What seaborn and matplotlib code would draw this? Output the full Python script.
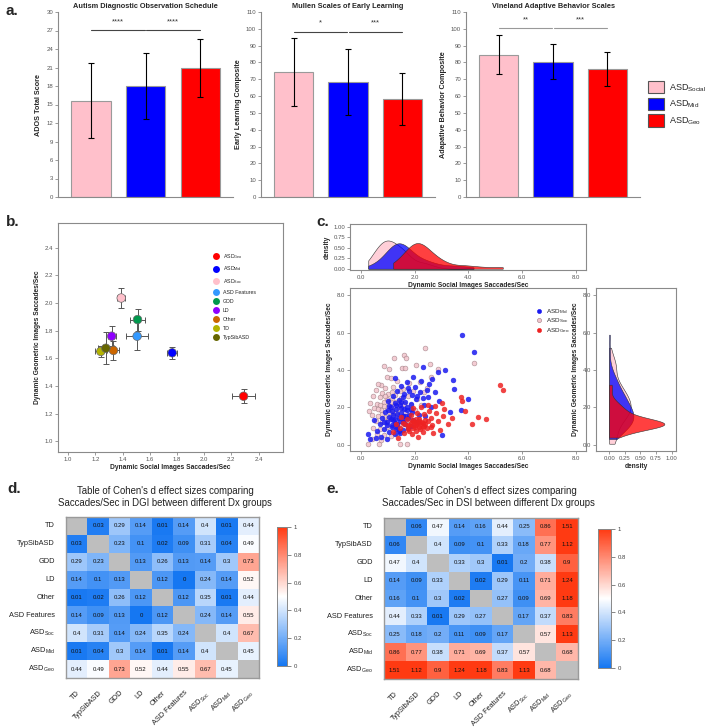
import numpy as np
import pandas as pd
import matplotlib
matplotlib.use('Agg')
import matplotlib.pyplot as plt
from matplotlib.colors import LinearSegmentedColormap
from matplotlib.lines import Line2D
from matplotlib.patches import Patch
import seaborn as sns

sns.set_theme(style='white')
plt.rcParams['font.family'] = ['Liberation Sans', 'DejaVu Sans']
plt.rcParams['mathtext.fontset'] = 'custom'
plt.rcParams['mathtext.rm'] = 'Liberation Sans'
plt.rcParams['mathtext.it'] = 'Liberation Sans:italic'
plt.rcParams['mathtext.bf'] = 'Liberation Sans:bold'

# ---- panel a: bar charts ----
bar_groups = ['ASD Social', 'ASD Mid', 'ASD Geo']
bar_colors = ['#FFC0CB', '#0000FF', '#FF0000']
ados_mean = [15.6, 18.0, 20.9]
ados_sd = [6.05, 5.35, 4.75]
mullen_mean = [74.3, 68.5, 58.3]
mullen_sd = [20.0, 19.5, 15.4]
vabs_mean = [84.7, 80.5, 76.0]
vabs_sd = [11.8, 10.5, 10.2]
ados_sig = ['****', '****']
mullen_sig = ['*', '***']
vabs_sig = ['**', '***']

# ---- panel b: group means ----
b_groups = ['ASD Geo', 'ASD Mid', 'ASD Soc', 'ASD Features', 'GDD', 'LD', 'Other', 'TD', 'TypSibASD']
b_labels = ['ASD$_{\\mathrm{Geo}}$', 'ASD$_{\\mathrm{Mid}}$', 'ASD$_{\\mathrm{Soc}}$', 'ASD Features',
            'GDD', 'LD', 'Other', 'TD', 'TypSibASD']
b_colors = ['#FF0000', '#0000FF', '#FFC0CB', '#3399FF', '#00994D', '#8F00FF', '#CC6600', '#B3B300', '#666600']
b_x = [2.29, 1.765, 1.39, 1.507, 1.51, 1.32, 1.333, 1.24, 1.277]
b_y = [1.326, 1.64, 2.036, 1.76, 1.88, 1.76, 1.657, 1.65, 1.673]
b_xerr = [0.086, 0.035, 0.03, 0.08, 0.054, 0.03, 0.044, 0.04, 0.06]
b_yerr = [0.05, 0.042, 0.075, 0.1, 0.08, 0.07, 0.07, 0.04, 0.114]

# ---- panel c: per-subject saccade rates (social x, geometric y) ----
soc_x = [2.39, 4.19, 1.60, 1.68, 1.24, 0.87, 2.05, 2.57, 2.88, 1.52, 1.64, 0.27, 0.68, 1.45, 1.70,
         0.95, 1.10, 0.75, 1.35, 1.80, 2.20, 2.60, 0.55, 0.90, 1.20, 1.55, 1.95, 2.35, 0.45, 0.70,
         1.00, 1.25, 1.50, 1.75, 2.10, 0.35, 0.60, 0.85, 1.05, 1.30, 1.60, 1.85, 0.50, 0.75, 0.95,
         1.15, 1.40, 1.65, 2.00, 0.40, 0.65, 0.90, 1.10, 1.35, 1.55, 0.55, 0.80, 1.00, 1.25, 1.50,
         0.45, 0.70, 0.95, 1.20, 0.60, 0.85, 1.10, 1.35, 0.40, 0.75, 1.80, 2.25, 1.15, 0.80, 1.45,
         2.45, 0.30, 1.70, 0.62, 1.05, 0.85, 1.05, 1.20, 0.95, 0.70, 1.30, 1.10, 0.80, 1.40, 1.00,
         0.65, 1.20, 0.90, 1.50, 1.15]
soc_y = [5.19, 4.37, 4.82, 4.64, 4.64, 4.21, 4.28, 4.30, 4.03, 4.10, 4.10, 0.05, 0.05, 0.05, 0.05,
         3.65, 3.55, 3.20, 3.40, 3.30, 3.35, 3.60, 2.95, 3.05, 3.10, 3.00, 2.85, 2.80, 2.60, 2.55,
         2.70, 2.65, 2.50, 2.60, 2.45, 2.25, 2.20, 2.30, 2.15, 2.30, 2.20, 2.10, 1.95, 1.85, 1.95,
         1.80, 1.90, 1.75, 1.85, 1.60, 1.55, 1.50, 1.65, 1.55, 1.40, 1.25, 1.20, 1.30, 1.15, 1.05,
         0.90, 0.85, 0.95, 0.80, 0.55, 0.50, 0.45, 0.60, 0.30, 0.25, 1.30, 2.10, 2.45, 2.75, 2.85,
         3.05, 1.80, 1.55, 3.25, 4.05, 2.05, 1.75, 2.05, 2.45, 2.10, 1.70, 2.30, 1.65, 2.15, 1.45,
         1.90, 1.50, 2.60, 2.35, 2.80]
mid_x = [3.75, 4.19, 3.13, 3.42, 3.47, 3.98, 3.71, 3.32, 3.00, 2.30, 1.27, 0.27, 0.35, 0.55, 0.75,
         0.95, 0.60, 0.85, 1.05, 1.25, 0.70, 0.95, 1.15, 1.35, 1.55, 0.80, 1.05, 1.25, 1.45, 1.65,
         1.85, 0.90, 1.15, 1.35, 1.55, 1.75, 1.95, 1.05, 1.30, 1.50, 1.70, 1.90, 2.15, 1.40, 1.65,
         1.85, 2.05, 2.35, 1.60, 1.90, 2.20, 2.50, 2.75, 2.60, 2.40, 2.10, 1.20, 1.75, 2.55, 2.90,
         1.45, 0.50, 1.00, 2.85, 1.25, 1.10, 1.20, 1.30, 1.40, 1.50, 1.60, 1.70, 1.80, 1.25, 1.45,
         1.55, 1.15, 0.95, 1.35, 1.65, 1.75, 1.00, 1.40, 1.85, 1.20, 1.30, 1.50, 1.60, 1.10, 0.85,
         1.55, 1.80, 2.00, 2.25, 1.70, 2.45, 1.35, 2.10, 1.95, 2.65, 1.50, 2.30]
mid_y = [5.89, 4.96, 3.98, 3.44, 2.96, 2.46, 1.87, 1.77, 0.50, 4.16, 3.57, 0.55, 0.30, 0.35, 0.40,
         0.30, 0.75, 0.85, 0.70, 0.55, 1.10, 1.20, 1.05, 0.95, 0.80, 1.45, 1.50, 1.35, 1.25, 1.10,
         1.00, 1.75, 1.80, 1.65, 1.55, 1.45, 1.30, 2.05, 2.10, 1.95, 1.85, 1.75, 1.60, 2.40, 2.30,
         2.20, 2.45, 2.10, 2.70, 2.65, 2.80, 2.55, 2.80, 2.00, 1.55, 1.20, 2.60, 3.05, 3.25, 2.35,
         0.60, 1.30, 2.35, 3.90, 1.15, 1.40, 1.60, 1.90, 1.45, 1.70, 1.35, 2.00, 1.60, 2.25, 2.10,
         1.20, 0.95, 1.05, 1.10, 1.55, 0.90, 1.85, 0.75, 1.90, 1.30, 0.85, 2.30, 1.90, 2.00, 1.20,
         2.55, 2.85, 3.10, 3.40, 3.35, 2.95, 2.90, 2.60, 3.60, 3.50, 3.15, 2.50]
geo_x = [5.19, 5.28, 4.67, 4.37, 4.12, 3.88, 3.73, 3.78, 3.38, 3.25, 2.94, 2.32, 2.14, 1.37, 1.20,
         1.45, 1.60, 1.75, 1.90, 1.55, 1.80, 2.00, 2.20, 2.45, 2.65, 1.70, 1.95, 2.15, 2.40, 2.60,
         2.85, 1.85, 2.10, 2.35, 2.55, 2.80, 3.05, 2.25, 2.50, 2.75, 3.00, 1.50, 2.05, 2.70, 3.10,
         1.30, 2.30, 1.95, 1.75, 1.85, 1.95, 2.05, 2.15, 2.25, 2.35, 1.90, 2.00, 2.10, 2.20, 1.80,
         2.40, 2.50, 1.65, 2.05, 2.30, 1.95, 2.15, 2.60]
geo_y = [3.21, 2.94, 1.35, 1.48, 1.12, 1.80, 2.55, 2.33, 1.44, 1.09, 0.77, 0.68, 0.41, 0.38, 0.70,
         0.90, 0.60, 0.85, 0.55, 1.15, 1.05, 0.95, 1.10, 0.90, 1.05, 1.35, 1.25, 1.40, 1.30, 1.45,
         1.25, 1.60, 1.70, 1.65, 1.80, 1.70, 1.55, 2.00, 2.15, 2.05, 2.25, 1.50, 0.75, 0.60, 1.90,
         1.10, 1.15, 1.95, 1.00, 1.15, 0.90, 1.05, 0.95, 1.20, 1.00, 1.30, 1.20, 1.15, 0.85, 0.75,
         1.10, 1.25, 1.10, 1.35, 0.95, 1.05, 1.25, 0.95]
c_colors = {'Soc': '#F2C4CC', 'Mid': '#1A1AF0', 'Geo': '#EE2222'}

# ---- panels d/e: Cohen's d tables ----
dx_groups = ['TD', 'TypSibASD', 'GDD', 'LD', 'Other', 'ASD Features',
             'ASD$_{\\mathrm{Soc}}$', 'ASD$_{\\mathrm{Mid}}$', 'ASD$_{\\mathrm{Geo}}$']
dgi_d = [
    [0, 0.03, 0.29, 0.14, 0.01, 0.14, 0.4, 0.01, 0.44],
    [0.03, 0, 0.23, 0.1, 0.02, 0.09, 0.31, 0.04, 0.49],
    [0.29, 0.23, 0, 0.13, 0.26, 0.13, 0.14, 0.3, 0.73],
    [0.14, 0.1, 0.13, 0, 0.12, 0, 0.24, 0.14, 0.52],
    [0.01, 0.02, 0.26, 0.12, 0, 0.12, 0.35, 0.01, 0.44],
    [0.14, 0.09, 0.13, 0, 0.12, 0, 0.24, 0.14, 0.55],
    [0.4, 0.31, 0.14, 0.24, 0.35, 0.24, 0, 0.4, 0.67],
    [0.01, 0.04, 0.3, 0.14, 0.01, 0.14, 0.4, 0, 0.45],
    [0.44, 0.49, 0.73, 0.52, 0.44, 0.55, 0.67, 0.45, 0],
]
dsi_d = [
    [0, 0.06, 0.47, 0.14, 0.16, 0.44, 0.25, 0.86, 1.51],
    [0.06, 0, 0.4, 0.09, 0.1, 0.33, 0.18, 0.77, 1.12],
    [0.47, 0.4, 0, 0.33, 0.3, 0.01, 0.2, 0.38, 0.9],
    [0.14, 0.09, 0.33, 0, 0.02, 0.29, 0.11, 0.71, 1.24],
    [0.16, 0.1, 0.3, 0.02, 0, 0.27, 0.09, 0.69, 1.18],
    [0.44, 0.33, 0.01, 0.29, 0.27, 0, 0.17, 0.37, 0.83],
    [0.25, 0.18, 0.2, 0.11, 0.09, 0.17, 0, 0.57, 1.13],
    [0.86, 0.77, 0.38, 0.71, 0.69, 0.37, 0.57, 0, 0.68],
    [1.51, 1.12, 0.9, 1.24, 1.18, 0.83, 1.13, 0.68, 0],
]

W, H = 709, 727
fig = plt.figure(figsize=(W / 100, H / 100), dpi=100)


def add_ax(l, t, r, b):
    return fig.add_axes([l / W, 1 - b / H, (r - l) / W, (b - t) / H])


def gray_axis(ax, spines=('left', 'bottom'), size=4.3):
    for k, s in ax.spines.items():
        s.set_visible(k in spines)
        s.set_color('#8a8a8a')
        s.set_linewidth(0.8)
    ax.tick_params(labelsize=size, colors='#8a8a8a', labelcolor='#555555', length=2, width=0.6, pad=1.5,
                   left='left' in spines, bottom='bottom' in spines)


def bar_panel(ax, means, sds, title, ylabel, ymax, step, sig, sig_y, txt_y, sig_color):
    df = pd.DataFrame({'grp': bar_groups, 'val': means})
    sns.barplot(data=df, x='grp', y='val', hue='grp', palette=bar_colors, width=0.72, saturation=1,
                edgecolor='#9a9a9a', linewidth=0.8, ax=ax, legend=False)
    ax.errorbar(range(3), means, yerr=sds, fmt='none', ecolor='black', elinewidth=0.8,
                capsize=2.5, capthick=0.8)
    ax.plot([0, 0.99], [sig_y, sig_y], color=sig_color, lw=0.8)
    ax.plot([1.01, 2], [sig_y, sig_y], color=sig_color, lw=0.8)
    ax.text(0.5, txt_y, sig[0], ha='center', va='center', fontsize=5.5, color='#333333')
    ax.text(1.5, txt_y, sig[1], ha='center', va='center', fontsize=5.5, color='#333333')
    ax.set_xlim(-0.6, 2.6)
    ax.set_ylim(0, ymax)
    ax.set_yticks(np.arange(0, ymax + 0.1, step))
    ax.set_xticks([])
    ax.set_xlabel('')
    ax.set_ylabel(ylabel, fontsize=5.2, fontweight='bold', labelpad=3)
    ax.set_title(title, fontsize=5.3, fontweight='bold', pad=3)
    gray_axis(ax)


a1 = add_ax(58, 12, 233, 197)
bar_panel(a1, ados_mean, ados_sd, 'Autism Diagnostic Observation Schedule', 'ADOS Total Score',
          30, 3, ados_sig, 27.1, 28.4, '#444444')
a2 = add_ax(261, 12, 435, 197)
bar_panel(a2, mullen_mean, mullen_sd, 'Mullen Scales of Early Learning', 'Early Learning Composite',
          110, 10, mullen_sig, 98.4, 103.4, '#444444')
a3 = add_ax(466, 12, 640, 197)
bar_panel(a3, vabs_mean, vabs_sd, 'Vineland Adaptive Behavior Scales', 'Adapative Behavior Composite',
          110, 10, vabs_sig, 100.6, 105.4, '#999999')

leg_labels = ['ASD$_{\\mathrm{Social}}$', 'ASD$_{\\mathrm{Mid}}$', 'ASD$_{\\mathrm{Geo}}$']
handles = [Patch(facecolor=c, edgecolor='#555555', linewidth=0.8) for c in bar_colors]
fig.legend(handles=handles, labels=leg_labels, loc='upper left', bbox_to_anchor=(648 / W, 1 - 81 / H),
           frameon=False, fontsize=6.5, handlelength=1.75, handleheight=1.75, labelspacing=0.45,
           handletextpad=0.6, borderaxespad=0, borderpad=0)

# ---- panel b ----
axb = add_ax(58, 223, 283, 452)
axb.errorbar(b_x, b_y, xerr=b_xerr, yerr=b_yerr, fmt='none', ecolor='#555555', elinewidth=0.7,
             capsize=2, capthick=0.7, zorder=1)
dfb = pd.DataFrame({'grp': b_groups, 'x': b_x, 'y': b_y})
sns.scatterplot(data=dfb, x='x', y='y', hue='grp', palette=b_colors, s=38, edgecolor='#6a6a6a',
                linewidth=0.5, ax=axb, legend=False, zorder=3)
axb.set_xlim(0.925, 2.58)
axb.set_ylim(0.923, 2.578)
axb.set_xticks(np.arange(1.0, 2.41, 0.2))
axb.set_yticks(np.arange(1.0, 2.41, 0.2))
axb.xaxis.set_major_formatter('{x:.1f}')
axb.yaxis.set_major_formatter('{x:.1f}')
gray_axis(axb, spines=('left', 'bottom', 'right', 'top'))
axb.set_xlabel('Dynamic Social Images Saccades/Sec', fontsize=4.8, fontweight='bold', labelpad=1.5)
axb.set_ylabel('Dynamic Geometric Images Saccades/Sec', fontsize=4.8, fontweight='bold', labelpad=3)
b_handles = [Line2D([], [], marker='o', ls='', markerfacecolor=c, markeredgecolor='none', markersize=5)
             for c in b_colors]
axb.legend(b_handles, b_labels, loc='upper left', bbox_to_anchor=(0.68, 0.875), frameon=False,
           fontsize=3.8, handletextpad=0.2, labelspacing=0.75, borderpad=0, borderaxespad=0)

# ---- panel c ----
dfc = pd.concat([
    pd.DataFrame({'grp': 'Soc', 'x': soc_x, 'y': soc_y}),
    pd.DataFrame({'grp': 'Mid', 'x': mid_x, 'y': mid_y}),
    pd.DataFrame({'grp': 'Geo', 'x': geo_x, 'y': geo_y}),
], ignore_index=True)

axm = add_ax(350, 288, 586, 451)
for grp, ec in [('Soc', '#9a7a80'), ('Mid', '#1A1AF0'), ('Geo', '#EE2222')]:
    sub = dfc[dfc.grp == grp]
    sns.scatterplot(data=sub, x='x', y='y', color=c_colors[grp], s=12, edgecolor=ec, linewidth=0.4,
                    alpha=0.85, ax=axm, legend=False)
axm.set_xlim(-0.41, 8.38)
axm.set_ylim(-0.34, 8.39)
axm.set_xticks(np.arange(0, 8.1, 2))
axm.set_yticks(np.arange(0, 8.1, 2))
axm.xaxis.set_major_formatter('{x:.1f}')
axm.yaxis.set_major_formatter('{x:.1f}')
gray_axis(axm, spines=('left', 'bottom', 'right', 'top'))
axm.set_xlabel('Dynamic Social Images Saccades/Sec', fontsize=4.8, fontweight='bold', labelpad=1.5)
axm.set_ylabel('Dynamic Geometric Images Saccades/Sec', fontsize=4.8, fontweight='bold', labelpad=3)
c_handles = [Line2D([], [], marker='o', ls='', markerfacecolor=c_colors[g], markeredgecolor=e,
                    markeredgewidth=0.4, markersize=3)
             for g, e in [('Mid', '#1A1AF0'), ('Soc', '#9a7a80'), ('Geo', '#EE2222')]]
axm.legend(c_handles, ['ASD$_{\\mathrm{Mid}}$', 'ASD$_{\\mathrm{Soc}}$', 'ASD$_{\\mathrm{Geo}}$'],
           loc='upper left', bbox_to_anchor=(0.775, 0.885), frameon=False, fontsize=4.6,
           handletextpad=0.1, labelspacing=0.1, borderpad=0, borderaxespad=0)

axt = add_ax(350, 224, 586, 270)
axr = add_ax(596, 288, 676, 451)
kde_cols = {'Mid': '#0000FF', 'Soc': '#FFC0CB', 'Geo': '#FF0000'}
# pink underneath, blue over it, red on top
for grp in ['Soc', 'Mid', 'Geo']:
    sub = dfc[dfc.grp == grp]
    sns.kdeplot(x=sub.x, ax=axt, fill=True, color=kde_cols[grp], alpha=0.75, linewidth=0.4,
                edgecolor='#333333', cut=0, bw_adjust=0.9)
    sns.kdeplot(y=sub.y, ax=axr, fill=True, color=kde_cols[grp], alpha=0.75, linewidth=0.4,
                edgecolor='#333333', cut=0, bw_adjust=0.9)
axt.set_xlim(-0.41, 8.38)
axt.set_ylim(-0.03, 1.06)
axt.set_xticks(np.arange(0, 8.1, 2))
axt.set_yticks([0, 0.25, 0.5, 0.75, 1.0])
axt.xaxis.set_major_formatter('{x:.1f}')
axt.yaxis.set_major_formatter('{x:.2f}')
gray_axis(axt, spines=('left', 'bottom', 'right', 'top'))
axt.set_xlabel('Dynamic Social Images Saccades/Sec', fontsize=4.8, fontweight='bold', labelpad=1.5)
axt.set_ylabel('density', fontsize=4.8, fontweight='bold', labelpad=2)

axr.set_ylim(-0.34, 8.39)
axr.set_xlim(-0.21, 1.07)
axr.set_yticks(np.arange(0, 8.1, 2))
axr.set_xticks([0, 0.25, 0.5, 0.75, 1.0])
axr.yaxis.set_major_formatter('{x:.1f}')
axr.xaxis.set_major_formatter('{x:.2f}')
gray_axis(axr, spines=('left', 'bottom', 'right', 'top'))
axr.set_xlabel('density', fontsize=4.8, fontweight='bold', labelpad=1.5)
axr.set_ylabel('Dynamic Geometric Images Saccades/Sec', fontsize=4.8, fontweight='bold', labelpad=3)

# ---- panels d and e ----
cmap = LinearSegmentedColormap.from_list('effect', ['#1577F2', '#FFFFFF', '#FF3A12'])


def effect_table(ax, cax, mat, title, cx):
    df = pd.DataFrame(mat, index=dx_groups, columns=dx_groups)
    labels = np.array([[f'{v:g}' for v in row] for row in mat])
    mask = np.eye(len(dx_groups), dtype=bool)
    ax.set_facecolor('#BEBEBE')
    sns.heatmap(df, ax=ax, cbar_ax=cax, cmap=cmap, vmin=0, vmax=1, mask=mask, annot=labels, fmt='',
                annot_kws={'fontsize': 4.3, 'color': '#111111'}, linewidths=0)
    for s in ax.spines.values():
        s.set_visible(True)
        s.set_color('#9a9a9a')
        s.set_linewidth(1.0)
    ax.tick_params(left=False, bottom=False, labelsize=5.3, pad=2, labelcolor='#222222')
    plt.setp(ax.get_xticklabels(), rotation=45, ha='right', rotation_mode='anchor')
    plt.setp(ax.get_yticklabels(), rotation=0)
    cax.set_yticks([0, 0.2, 0.4, 0.6, 0.8, 1.0])
    cax.set_yticklabels(['0', '0.2', '0.4', '0.6', '0.8', '1'])
    cax.tick_params(right=True, length=3, width=0.5, color='#555555', labelsize=4.3, pad=1.5,
                    labelcolor='#444444')
    for s in cax.spines.values():
        s.set_visible(True)
        s.set_color('#888888')
        s.set_linewidth(0.6)
    fig.text(cx / W, 1 - 497 / H, title, ha='center', va='center', fontsize=6.9, color='#222222',
             linespacing=1.3)


axd = add_ax(66, 517, 259, 678)
caxd = add_ax(277, 527, 287, 666)
effect_table(axd, caxd, dgi_d,
             "Table of Cohen's d effect sizes comparing\nSaccades/Sec in DGI between different Dx groups", 165)
axe = add_ax(384, 518, 578, 679)
caxe = add_ax(598, 529, 611, 668)
effect_table(axe, caxe, dsi_d,
             "Table of Cohen's d effect sizes comparing\nSaccades/Sec in DSI between different Dx groups", 488)

# panel letters
for lbl, x, y in [('a.', 5, 15), ('b.', 6, 226), ('c.', 316, 226), ('d.', 7, 493), ('e.', 326, 493)]:
    fig.text(x / W, 1 - y / H, lbl, fontsize=11, fontweight='bold', va='baseline', ha='left')

fig.savefig('out.png', dpi=100)
